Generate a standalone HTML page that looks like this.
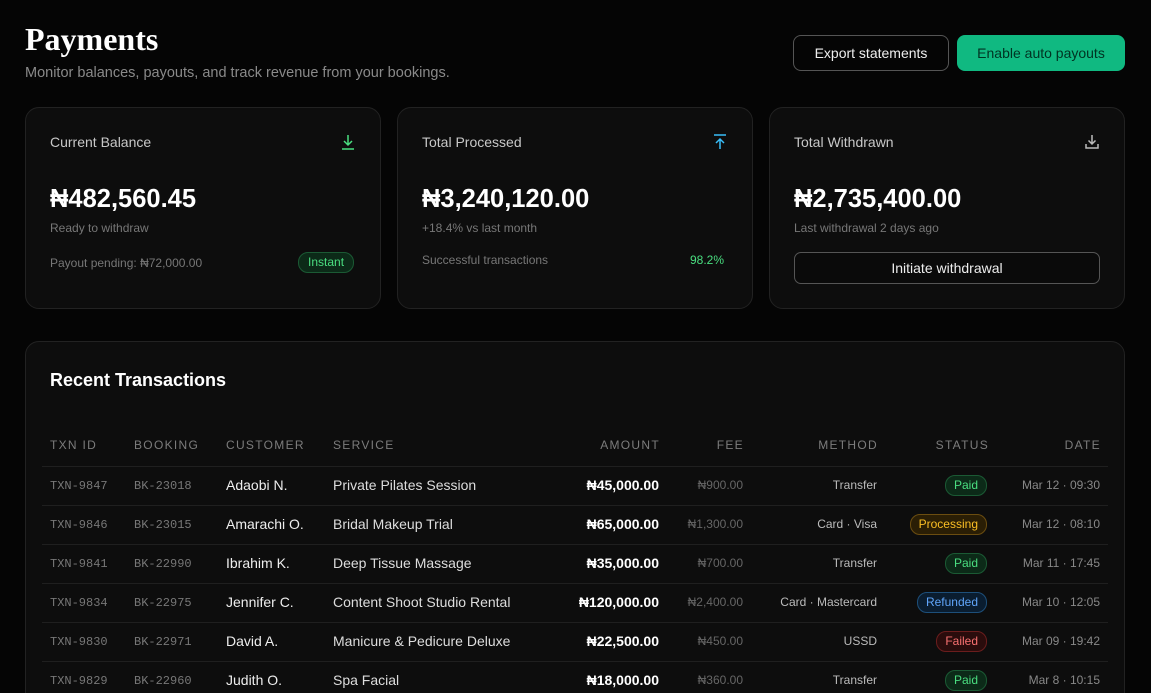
<!DOCTYPE html><html><head><meta charset="utf-8"><style>
*{margin:0;padding:0;box-sizing:border-box}
html,body{width:1151px;height:693px;overflow:hidden}
body{background:#050505;font-family:"Liberation Sans",sans-serif;color:#eee;position:relative}
.a{position:absolute;white-space:nowrap}
.card{position:absolute;background:#0d0d0d;border:1px solid #222;border-radius:14px}
.r{text-align:right}
.h{font-size:12px;letter-spacing:1.3px;color:#7c7c7c;top:438px}
.line{position:absolute;left:42px;width:1066px;height:1px;background:#1f1f1f}
.mono{font-family:"Liberation Mono",monospace;font-size:12px;color:#777}
.badge{position:absolute;font-size:12px;height:21px;line-height:19px;padding:0 8px;border-radius:10px;border:1px solid}
.paid{color:#4ade80;background:#0c2a18;border-color:#1b5a34}
.big{font-size:25.5px;font-weight:bold;color:#fff;top:185px}
</style></head><body>
<div class="a" style="left:25px;top:21px;font-family:'Liberation Serif',serif;font-weight:bold;font-size:32px;color:#fff">Payments</div>
<div class="a" style="left:25px;top:65px;font-size:14.5px;color:#8a8a8a">Monitor balances, payouts, and track revenue from your bookings.</div>
<div class="a" style="left:793px;top:35px;width:156px;height:36px;border:1px solid #555;border-radius:8px;font-size:14px;color:#eee;text-align:center;line-height:34px">Export statements</div>
<div class="a" style="left:957px;top:35px;width:168px;height:36px;background:#10b981;border-radius:8px;font-size:14px;color:#032;text-align:center;line-height:36px">Enable auto payouts</div>

<div class="card" style="left:25px;top:107px;width:356px;height:202px"></div>
<div class="card" style="left:397px;top:107px;width:356px;height:202px"></div>
<div class="card" style="left:769px;top:107px;width:356px;height:202px"></div>

<svg class="a" style="left:341px;top:134px" width="14" height="16" viewBox="0 0 14 16" fill="none" stroke="#4ade80" stroke-width="1.5"><path d="M7 1v10M3 7l4 4 4-4M1 15h12"/></svg>
<svg class="a" style="left:713px;top:134px" width="14" height="16" viewBox="0 0 14 16" fill="none" stroke="#38bdf8" stroke-width="1.5"><path d="M7 15V5M3 9l4-4 4 4M1 1h12"/></svg>
<svg class="a" style="left:1085px;top:134px" width="14" height="16" viewBox="0 0 14 16" fill="none" stroke="#bbb" stroke-width="1.5"><path d="M7 1v9M3.5 6.5L7 10l3.5-3.5M1 10v4h12v-4"/></svg>

<div class="a" style="left:50px;top:134px;font-size:14px;color:#c8c8c8">Current Balance</div>
<div class="a big" style="left:50px">₦482,560.45</div>
<div class="a" style="left:50px;top:221px;font-size:12px;color:#777">Ready to withdraw</div>
<div class="a" style="left:50px;top:256px;font-size:12px;color:#777">Payout pending: ₦72,000.00</div>
<div class="badge paid" style="left:298px;top:252px;padding:0 9px">Instant</div>

<div class="a" style="left:422px;top:134px;font-size:14px;color:#c8c8c8">Total Processed</div>
<div class="a big" style="left:422px">₦3,240,120.00</div>
<div class="a" style="left:422px;top:221px;font-size:12px;color:#777">+18.4% vs last month</div>
<div class="a" style="left:422px;top:253px;font-size:12px;color:#777">Successful transactions</div>
<div class="a" style="left:690px;top:253px;font-size:12px;color:#4ade80">98.2%</div>

<div class="a" style="left:794px;top:134px;font-size:14px;color:#c8c8c8">Total Withdrawn</div>
<div class="a big" style="left:794px">₦2,735,400.00</div>
<div class="a" style="left:794px;top:221px;font-size:12px;color:#777">Last withdrawal 2 days ago</div>
<div class="a" style="left:794px;top:252px;width:306px;height:32px;border:1px solid #555;border-radius:7px;background:#0a0a0a;text-align:center;line-height:30px;font-size:14px;color:#eee">Initiate withdrawal</div>

<div class="card" style="left:25px;top:341px;width:1100px;height:400px"></div>
<div class="a" style="left:50px;top:370px;font-size:18px;font-weight:bold;color:#fff">Recent Transactions</div>

<div class="a h" style="left:50px">TXN ID</div>
<div class="a h" style="left:134px">BOOKING</div>
<div class="a h" style="left:226px">CUSTOMER</div>
<div class="a h" style="left:333px">SERVICE</div>
<div class="a h r" style="right:491px">AMOUNT</div>
<div class="a h r" style="right:407px">FEE</div>
<div class="a h r" style="right:273px">METHOD</div>
<div class="a h r" style="right:162px">STATUS</div>
<div class="a h r" style="right:50px">DATE</div>
<div class="line" style="top:466px"></div>
<div class="line" style="top:505px"></div>
<div class="line" style="top:544px"></div>
<div class="line" style="top:583px"></div>
<div class="line" style="top:622px"></div>
<div class="line" style="top:661px"></div>

<div id="rows"></div>
<script>
var d=[["TXN-9847","BK-23018","Adaobi N.","Private Pilates Session","₦45,000.00","₦900.00","Transfer","Paid","Mar 12 · 09:30"],
["TXN-9846","BK-23015","Amarachi O.","Bridal Makeup Trial","₦65,000.00","₦1,300.00","Card · Visa","Processing","Mar 12 · 08:10"],
["TXN-9841","BK-22990","Ibrahim K.","Deep Tissue Massage","₦35,000.00","₦700.00","Transfer","Paid","Mar 11 · 17:45"],
["TXN-9834","BK-22975","Jennifer C.","Content Shoot Studio Rental","₦120,000.00","₦2,400.00","Card · Mastercard","Refunded","Mar 10 · 12:05"],
["TXN-9830","BK-22971","David A.","Manicure & Pedicure Deluxe","₦22,500.00","₦450.00","USSD","Failed","Mar 09 · 19:42"],
["TXN-9829","BK-22960","Judith O.","Spa Facial","₦18,000.00","₦360.00","Transfer","Paid","Mar 8 · 10:15"]];
var st={Paid:"color:#4ade80;background:#0c2a18;border-color:#1b5a34",Processing:"color:#fbbf24;background:#2a1e05;border-color:#6b4d10",Refunded:"color:#60a5fa;background:#0a1d30;border-color:#1d4f7a",Failed:"color:#f87171;background:#2a0c0c;border-color:#6b1d1d"};
var h="";d.forEach(function(r,i){var y=477+39*i;
h+='<div class="a mono" style="left:50px;top:'+(y+2)+'px">'+r[0]+'</div><div class="a mono" style="left:134px;top:'+(y+2)+'px">'+r[1]+'</div>'+
'<div class="a" style="left:226px;top:'+y+'px;font-size:14px;color:#eee">'+r[2]+'</div><div class="a" style="left:333px;top:'+y+'px;font-size:14px;color:#ddd">'+r[3]+'</div>'+
'<div class="a r" style="right:492px;top:'+y+'px;font-size:14px;font-weight:bold;color:#fff">'+r[4]+'</div>'+
'<div class="a r" style="right:408px;top:'+(y+1)+'px;font-size:12px;color:#666">'+r[5]+'</div>'+
'<div class="a r" style="right:274px;top:'+(y+1)+'px;font-size:12px;color:#bbb">'+r[6]+'</div>'+
'<div class="badge" style="right:164px;top:'+(y-2)+'px;'+st[r[7]]+'">'+r[7]+'</div>'+
'<div class="a r" style="right:51px;top:'+(y+1)+'px;font-size:12px;color:#888">'+r[8]+'</div>';});
document.getElementById("rows").innerHTML=h;
</script>
</body></html>
